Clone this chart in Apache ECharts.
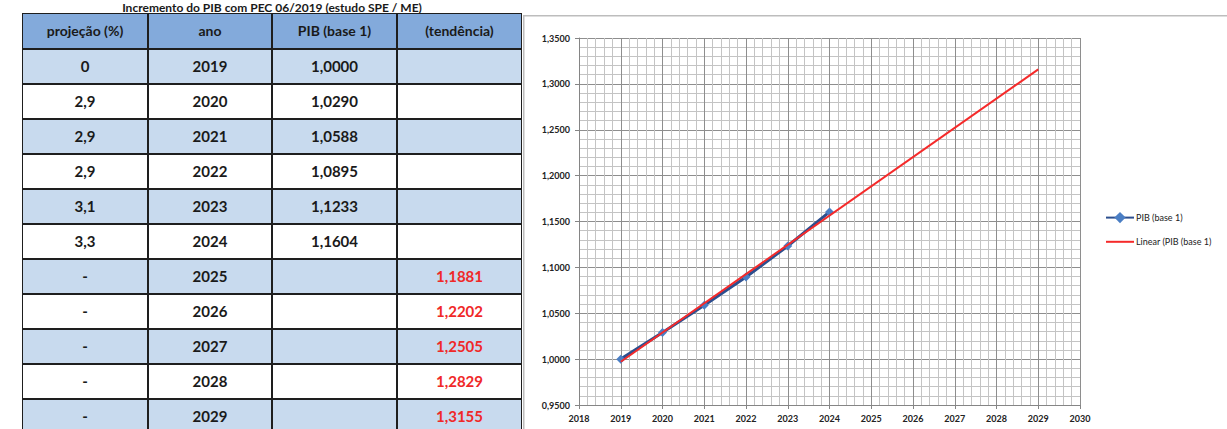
<!DOCTYPE html>
<html>
<head>
<meta charset="utf-8">
<script src="https://cdn.jsdelivr.net/npm/echarts@6/dist/echarts.min.js"></script>
<style>
  html, body { margin: 0; padding: 0; background: #fff; width: 1227px; height: 429px; overflow: hidden; }
  #chart { position: absolute; left: 0; top: 0; width: 1227px; height: 429px; }
  #tbl { position: absolute; left: 0; top: 0; width: 530px; height: 429px; font-family: Lato, "Open Sans", sans-serif; }
  .cell { position: absolute; box-sizing: border-box; border: 1px solid #1e1e1e; text-align: center; font-weight: bold; color: #1a1a1a; }
  #title { position: absolute; left: 22px; width: 500px; top: 0px; height: 13px; line-height: 12px; text-align: center; font: bold 12px Lato, sans-serif; color: #1a1a1a; white-space: nowrap; }
</style>
</head>
<body>
<div id="chart"></div>
<div id="tbl"></div>
<script>
// ---- data ----
const titleText = "Incremento do PIB com PEC 06/2019 (estudo SPE / ME)";
const headers = ["projeção (%)", "ano", "PIB (base 1)", "(tendência)"];
const projecao = ["0", "2,9", "2,9", "2,9", "3,1", "3,3", "-", "-", "-", "-", "-"];
const anos = [2019, 2020, 2021, 2022, 2023, 2024, 2025, 2026, 2027, 2028, 2029];
const pibYears = [2019, 2020, 2021, 2022, 2023, 2024];
const pibValues = [1.0000, 1.0290, 1.0588, 1.0895, 1.1233, 1.1604];
const tendYears = [2025, 2026, 2027, 2028, 2029];
const tendValues = [1.1881, 1.2202, 1.2505, 1.2829, 1.3155];
const trendLineYears = [2019, 2029];
const trendLineValues = [0.9971, 1.3158];
const seriesNames = ["PIB (base 1)", "Linear (PIB (base 1)"];

// ---- table (HTML) ----
const fmt4 = v => v.toFixed(4).replace('.', ',');
const tbl = document.getElementById('tbl');
const colX = [22, 148, 272, 397, 522];
const headerTop = 13, headerH = 36, rowH = 35;
const t = document.createElement('div');
t.id = 'title'; t.textContent = titleText; tbl.appendChild(t);
function addCell(text, c, top, h, bg, color, size) {
  const d = document.createElement('div');
  d.className = 'cell';
  d.style.left = colX[c] + 'px';
  d.style.width = (colX[c + 1] - colX[c]) + 'px';
  d.style.top = top + 'px';
  d.style.height = h + 'px';
  d.style.lineHeight = (h - 2) + 'px';
  d.style.background = bg;
  d.style.fontSize = size + 'px';
  if (color) d.style.color = color;
  d.textContent = text;
  tbl.appendChild(d);
}
headers.forEach((h, c) => addCell(h, c, headerTop, headerH, '#83AADB', null, 14));
anos.forEach((yr, r) => {
  const bg = r % 2 === 0 ? '#C8DAEE' : '#FFFFFF';
  const top = headerTop + headerH + r * rowH;
  const pi = pibYears.indexOf(yr);
  const ti = tendYears.indexOf(yr);
  addCell(projecao[r], 0, top, rowH, bg, null, 15);
  addCell(String(yr), 1, top, rowH, bg, null, 15);
  addCell(pi >= 0 ? fmt4(pibValues[pi]) : '', 2, top, rowH, bg, null, 15);
  addCell(ti >= 0 ? fmt4(tendValues[ti]) : '', 3, top, rowH, bg, '#F02828', 15);
});

// ---- chart ----
const chart = echarts.init(document.getElementById('chart'), null, { renderer: 'svg' });
const labelFont = { fontFamily: 'Lato, sans-serif', fontSize: 9, fontWeight: 'bold', color: '#222' };
chart.setOption({
  animation: false,
  backgroundColor: 'transparent',
  graphic: [{
    type: 'rect', left: 523, top: 15, z: -10, silent: true,
    shape: { width: 720, height: 430 },
    style: { fill: '#fff', stroke: '#BDBDBD', lineWidth: 1.5 }
  }],
  grid: { left: 579, right: 147, top: 38, bottom: 24, containLabel: false },
  legend: {
    orient: 'vertical', left: 1100, top: 207, itemWidth: 28, itemHeight: 14, itemGap: 13,
    textStyle: { fontFamily: 'Lato, sans-serif', fontSize: 9, color: '#222', padding: [0, 0, 0, -3] },
    data: [
      { name: seriesNames[0] },
      { name: seriesNames[1], itemStyle: { opacity: 0 } }
    ]
  },
  xAxis: {
    type: 'value', min: 2018, max: 2030, interval: 1,
    axisLine: { show: true, lineStyle: { color: '#858585', width: 1 } },
    axisTick: { show: true, length: 4, lineStyle: { color: '#858585' } },
    minorTick: { show: false, splitNumber: 5 },
    axisLabel: Object.assign({ margin: 9, formatter: v => String(v) }, labelFont),
    splitLine: { show: true, lineStyle: { color: '#8E8E8E', width: 1 } },
    minorSplitLine: { show: true, lineStyle: { color: '#C4C4C4', width: 1 } }
  },
  yAxis: {
    type: 'value', min: 0.95, max: 1.35, interval: 0.05,
    axisLine: { show: true, lineStyle: { color: '#858585', width: 1 } },
    axisTick: { show: true, length: 4, lineStyle: { color: '#858585' } },
    minorTick: { show: false, splitNumber: 5 },
    axisLabel: Object.assign({ margin: 9, formatter: v => v.toFixed(4).replace('.', ',') }, labelFont),
    splitLine: { show: true, lineStyle: { color: '#8E8E8E', width: 1 } },
    minorSplitLine: { show: true, lineStyle: { color: '#C4C4C4', width: 1 } }
  },
  series: [
    {
      name: seriesNames[0], type: 'line', z: 3,
      data: pibYears.map((y, i) => [y, pibValues[i]]),
      symbol: 'diamond', symbolSize: 9,
      lineStyle: { color: '#2C4F8F', width: 3 },
      itemStyle: { color: '#4A7EC4' }
    },
    {
      name: seriesNames[1], type: 'line', z: 4,
      data: trendLineYears.map((y, i) => [y, trendLineValues[i]]),
      symbol: 'none',
      lineStyle: { color: '#F52A2A', width: 2 },
      itemStyle: { color: '#F52A2A' }
    }
  ]
});
</script>
</body>
</html>
